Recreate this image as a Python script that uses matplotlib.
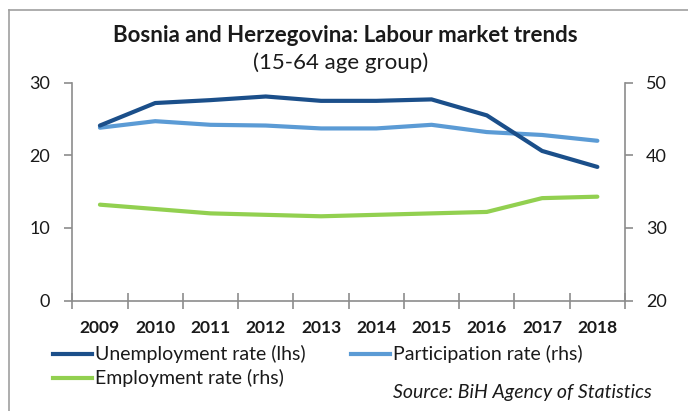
import matplotlib
matplotlib.use("Agg")
import matplotlib.pyplot as plt
from matplotlib.lines import Line2D
import numpy as np

years = ["2009", "2010", "2011", "2012", "2013", "2014", "2015", "2016", "2017", "2018"]
unemployment = [24.1, 27.2, 27.6, 28.1, 27.5, 27.5, 27.7, 25.5, 20.6, 18.4]
participation = [43.8, 44.7, 44.2, 44.1, 43.7, 43.7, 44.2, 43.2, 42.8, 42.0]
employment = [33.2, 32.6, 32.0, 31.8, 31.6, 31.8, 32.0, 32.2, 34.1, 34.3]
left_ticks = [0, 10, 20, 30]
right_ticks = [20, 30, 40, 50]

c_unemp = "#1B4F8A"
c_part = "#5B9BD5"
c_emp = "#92D050"
axis_col = "#8C8C8C"
text_col = "#1a1a1a"

plt.rcParams['font.family'] = ['Lato', 'DejaVu Sans']

W, H = 688, 411
fig = plt.figure(figsize=(W / 100, H / 100), dpi=100)

def fx(px):
    return px / W

def fy(py):
    return 1 - py / H

# outer frame
fig.add_artist(Line2D([fx(9), fx(9)], [fy(10), fy(420)], color="#A0A0A0", lw=1.2, transform=fig.transFigure))
fig.add_artist(Line2D([fx(9), fx(700)], [fy(10), fy(10)], color="#A0A0A0", lw=1.2, transform=fig.transFigure))

left, right, top, bottom = 72.3, 625, 82.7, 300.5
ax = fig.add_axes([fx(left), fy(bottom), fx(right - left), fy(top) - fy(bottom)])
ax2 = ax.twinx()

x = np.arange(len(years))
ax.plot(x, unemployment, color=c_unemp, lw=3.0, solid_capstyle="round", zorder=3)
ax2.plot(x, participation, color=c_part, lw=3.0, solid_capstyle="round", zorder=2)
ax2.plot(x, employment, color=c_emp, lw=3.0, solid_capstyle="round", zorder=2)
ax.set_zorder(ax2.get_zorder() + 1)
ax.patch.set_visible(False)

ax.set_xlim(-0.5, len(years) - 0.5)
ax.set_ylim(0, 30)
ax2.set_ylim(20, 50)
ax.set_yticks(left_ticks)
ax2.set_yticks(right_ticks)
ax.set_yticklabels([str(v) for v in left_ticks])
ax2.set_yticklabels([str(v) for v in right_ticks])

ax.set_xticks(x)
ax.set_xticklabels(years, fontweight="bold", fontsize=12.5, color=text_col)
ax.set_xticks(np.arange(-0.5, len(years), 1.0), minor=True)
ax.tick_params(axis="x", which="major", length=0, pad=14)
ax.tick_params(axis="x", which="minor", length=11, color=axis_col, direction="inout", width=1.2)

for a in (ax, ax2):
    for s in a.spines.values():
        s.set_color(axis_col)
        s.set_linewidth(1.2)
    a.spines["top"].set_visible(False)
ax.spines["right"].set_visible(False)
ax2.spines["left"].set_visible(False)
ax2.spines["bottom"].set_visible(False)

ax.tick_params(axis="y", length=6, width=1.2, color=axis_col, labelsize=13, labelcolor=text_col, pad=10)
ax2.tick_params(axis="y", length=6, width=1.2, color=axis_col, labelsize=13, labelcolor=text_col, pad=9)

fig.text(fx(345), fy(35), "Bosnia and Herzegovina: Labour market trends", ha="center", va="center",
         fontsize=16, fontweight="bold", color=text_col)
fig.text(fx(341), fy(63), "(15-64 age group)", ha="center", va="center",
         fontsize=16, color=text_col)

# legend
def leg(x0, y0, color, label):
    fig.add_artist(Line2D([fx(x0), fx(x0 + 39)], [fy(y0), fy(y0)], color=color, lw=3.0, transform=fig.transFigure))
    fig.text(fx(x0 + 42), fy(y0), label, ha="left", va="center", fontsize=14, color=text_col)

leg(53, 354, c_unemp, "Unemployment rate (lhs)")
leg(351, 354, c_part, "Participation rate (rhs)")
leg(53, 378, c_emp, "Employment rate (rhs)")

fig.text(fx(652), fy(392), "Source: BiH Agency of Statistics", ha="right", va="center",
         fontsize=14, style="italic", color=text_col)

fig.savefig("out.png", dpi=100)
